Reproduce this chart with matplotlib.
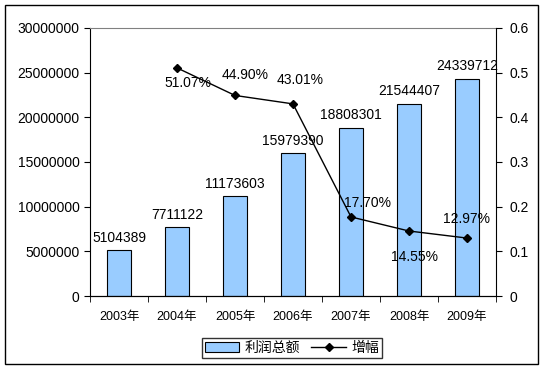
import matplotlib
matplotlib.use("Agg")
import matplotlib.pyplot as plt
import numpy as np
from matplotlib.patches import Rectangle, Patch
from matplotlib.lines import Line2D

plt.rcParams['font.family'] = ['Liberation Sans', 'Noto Sans CJK SC', 'DejaVu Sans']

# data
years = ['2003年', '2004年', '2005年', '2006年', '2007年', '2008年', '2009年']
profit = [5104389, 7711122, 11173603, 15979390, 18808301, 21544407, 24339712]
growth_years = ['2004年', '2005年', '2006年', '2007年', '2008年', '2009年']
growth = [0.5107, 0.4490, 0.4301, 0.1770, 0.1455, 0.1297]

# label offsets (points) for the growth labels
growth_offsets = [(8, -11), (7, 15), (5, 17), (12, 10), (4, -19), (0, 14)]

fig = plt.figure(figsize=(5.45, 3.70), dpi=100)
fig.patches.append(Rectangle((5 / 545, 6 / 370), 533 / 545, 359 / 370,
                             transform=fig.transFigure, fill=False,
                             edgecolor='black', linewidth=1))

ax = fig.add_axes([90 / 545, 74 / 370, 406 / 545, 268 / 370])
x = np.arange(len(years))
ax.bar(x, profit, width=0.4, color='#99CCFF', edgecolor='black', linewidth=0.8, zorder=2)
for xi, v in zip(x, profit):
    ax.annotate(str(v), (xi, v), xytext=(0, 4), textcoords='offset points',
                ha='center', va='bottom', fontsize=10)

ax.set_xlim(-0.5, len(years) - 0.5)
ax.set_ylim(0, 30000000)
ax.set_yticks(np.arange(0, 30000001, 5000000))
ax.set_yticklabels([str(v) for v in range(0, 30000001, 5000000)], fontsize=10)
ax.set_xticks(x)
ax.set_xticklabels(years, fontsize=9)
ax.set_xticks(np.arange(-0.5, len(years)), minor=True)
ax.tick_params(axis='x', which='major', length=0, pad=11)
ax.tick_params(axis='x', which='minor', length=4, direction='out')
ax.tick_params(axis='y', length=4, direction='out')
ax.spines['top'].set_color('#808080')
ax.spines['right'].set_visible(False)

ax2 = ax.twinx()
gx = [years.index(y) for y in growth_years]
ax2.plot(gx, growth, color='black', linewidth=1, marker='D', markersize=4, zorder=3)
for xi, v, off in zip(gx, growth, growth_offsets):
    ax2.annotate(f"{v * 100:.2f}%", (xi, v), xytext=off, textcoords='offset points',
                 ha='center', va='center', fontsize=10)
ax2.set_ylim(0, 0.6)
ax2.set_yticks(np.arange(0, 0.61, 0.1))
ax2.set_yticklabels(['0', '0.1', '0.2', '0.3', '0.4', '0.5', '0.6'], fontsize=10)
ax2.tick_params(axis='y', length=4, direction='out', pad=6)
ax2.spines['top'].set_visible(False)
ax2.spines['left'].set_visible(False)

handles = [Patch(facecolor='#99CCFF', edgecolor='black', linewidth=0.8),
           Line2D([0], [0], color='black', linewidth=1, marker='D', markersize=4)]
leg = fig.legend(handles, ['利润总额', '增幅'], loc='center',
                 bbox_to_anchor=(292 / 545, 1 - 348 / 370), ncol=2, fontsize=10,
                 frameon=True, fancybox=False, handlelength=2.5, handletextpad=0.4,
                 columnspacing=0.8, borderpad=0.2)
leg.get_frame().set_edgecolor('black')
leg.get_frame().set_linewidth(1)

plt.savefig('out.png', dpi=100)
